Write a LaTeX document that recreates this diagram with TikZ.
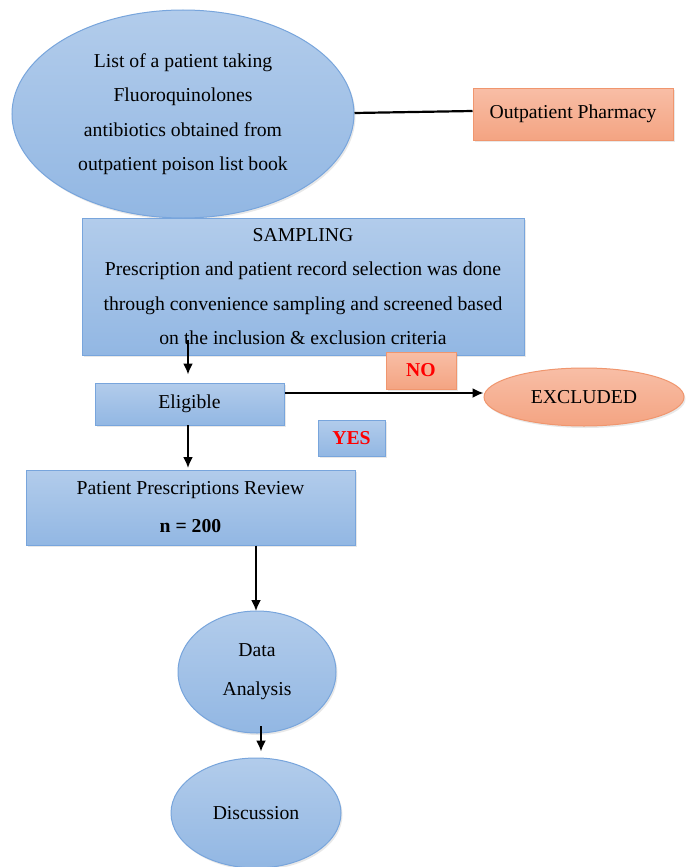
\documentclass[tikz,border=0pt]{standalone}
\usepackage{fontspec}
\setmainfont{Liberation Serif}
\usetikzlibrary{shapes.geometric,arrows.meta,shadows}
\definecolor{bluetop}{RGB}{178,204,235}
\definecolor{bluebot}{RGB}{146,183,227}
\definecolor{blueline}{RGB}{120,165,220}
\definecolor{ortop}{RGB}{248,190,166}
\definecolor{orbot}{RGB}{244,164,130}
\definecolor{orline}{RGB}{240,150,110}
\definecolor{redtxt}{RGB}{255,0,0}
\begin{document}
\begin{tikzpicture}[x=1pt,y=-1pt,
  txt/.style={font=\fontsize{19.7}{34.5}\selectfont, align=center, inner sep=0pt},
  bluefill/.style={top color=bluetop, bottom color=bluebot, draw=blueline, line width=1pt,
     drop shadow={opacity=0.18, shadow xshift=1.5pt, shadow yshift=-2pt}},
  orfill/.style={top color=ortop, bottom color=orbot, draw=orline, line width=1pt,
     drop shadow={opacity=0.18, shadow xshift=1.5pt, shadow yshift=-2pt}},
  bbox/.style={bluefill, txt, rectangle},
  bell/.style={bluefill, txt, ellipse},
  arr/.style={line width=1.8pt, -{Latex[length=11pt,width=10pt]}},
]
\useasboundingbox (0,0) rectangle (690,867);
\fill[white] (0,0) rectangle (690,867);

% top ellipse
\node[bell, minimum width=342pt, minimum height=208pt] (list) at (183,114)
  {List of a patient taking\\Fluoroquinolones\\antibiotics obtained from\\outpatient poison list book};
\node[orfill, txt, rectangle, minimum width=200pt, minimum height=52pt] (opp) at (573,114)
  {Outpatient Pharmacy};
\draw[line width=2.2pt] ([yshift=1pt]list.east) -- ([yshift=3pt]opp.west);

% sampling box
\node[bbox, minimum width=442pt, minimum height=137pt] (samp) at (303,286.5)
  {SAMPLING\\Prescription and patient record selection was done\\through convenience sampling and screened based\\on the inclusion \& exclusion criteria};

% NO box
\node[orfill, txt, rectangle, minimum width=70pt, minimum height=37pt, text=redtxt, font=\fontsize{19.7}{34.5}\selectfont\bfseries] (no) at (421,370.5) {NO};

% Eligible
\node[bbox, minimum width=189pt, minimum height=42pt] (elig) at (189.5,404) {Eligible};
\coordinate (s1) at (188,340);
\draw[arr, shorten >=8pt] (s1) -- (s1 |- elig.north);

% Excluded
\node[orfill, txt, ellipse, minimum width=200pt, minimum height=58pt] (excl) at (584,397) {EXCLUDED};
\draw[arr] ([yshift=11pt]elig.east) -- ([yshift=11pt]elig.east -| excl.west);

% YES box
\node[bbox, minimum width=67pt, minimum height=36pt, text=redtxt, font=\fontsize{19.7}{34.5}\selectfont\bfseries] (yes) at (351.5,438) {YES};

% Patient review
\node[bbox, minimum width=329pt, minimum height=75pt, font=\fontsize{19.7}{38}\selectfont] (rev) at (190.5,507.5)
  {Patient Prescriptions Review\\\textbf{n = 200}};
\draw[arr, shorten >=2pt] (188,425) -- (188,470);

% Data Analysis
\node[bell, minimum width=158pt, minimum height=122pt, font=\fontsize{19.7}{39}\selectfont] (data) at (257,672)
  {Data\\Analysis};
\draw[arr] (rev.south -| 256,0) -- (256,611);

% Discussion
\node[bell, minimum width=170pt, minimum height=110pt] (disc) at (256,813) {Discussion};
\coordinate (d1) at (261,726);
\draw[arr, shorten >=6pt] (d1) -- (d1 |- disc.north);
\end{tikzpicture}
\end{document}
